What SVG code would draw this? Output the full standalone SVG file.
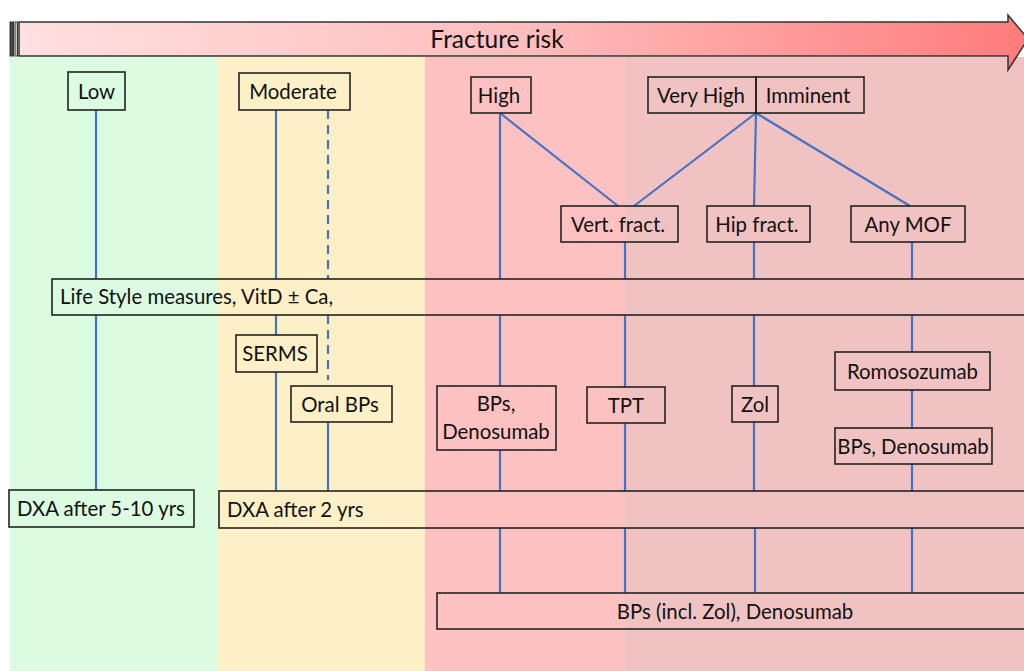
<svg xmlns="http://www.w3.org/2000/svg" width="1024" height="671" viewBox="0 0 1024 671">
<defs>
<linearGradient id="ag" x1="0" y1="0" x2="1" y2="0">
<stop offset="0" stop-color="#FFE0E0"/>
<stop offset="0.5" stop-color="#FFBDBD"/>
<stop offset="1" stop-color="#FF7B7B"/>
</linearGradient>
<style>
.box{fill:none;stroke:#222;stroke-width:1.6}
.t{font-family:Lato,"Liberation Sans",sans-serif;font-size:20.4px;fill:#111}
.title{font-size:24.5px}
.c{stroke:#4472C4;stroke-width:2.2;fill:none}
.d{stroke-dasharray:9 6}
</style>
</defs>
<rect width="1024" height="671" fill="#fff"/>
<g id="bands">
<rect x="10" y="57" width="208" height="614" fill="#DBFCE1"/>
<rect x="218" y="57" width="207" height="614" fill="#FEF0C6"/>
<rect x="425" y="57" width="200" height="614" fill="#FEC1C1"/>
<rect x="625" y="57" width="399" height="614" fill="#F1C2C2"/>
</g>
<g id="arrow">
<rect x="10" y="22" width="3.5" height="34" fill="#444" stroke="#333" stroke-width="1"/>
<rect x="15" y="22" width="2.5" height="34" fill="#ccc" stroke="#333" stroke-width="1"/>
<path d="M19,22 H1008 V15 L1028,39 L1008,70 V56 H19 Z" fill="url(#ag)" stroke="#333" stroke-width="1.5"/>
<text class="t title" x="497" y="47.5" text-anchor="middle">Fracture risk</text>
</g>
<g id="connectors">
<line class="c" x1="96" y1="110" x2="96" y2="279"/>
<line class="c" x1="96" y1="315" x2="96" y2="490"/>
<line class="c" x1="276" y1="110" x2="276" y2="279"/>
<line class="c" x1="276" y1="315" x2="276" y2="335"/>
<line class="c" x1="276" y1="372" x2="276" y2="491"/>
<line class="c d" x1="328" y1="110" x2="328" y2="279"/>
<line class="c d" x1="328" y1="315" x2="328" y2="380"/>
<line class="c" x1="328" y1="422" x2="328" y2="491"/>
<line class="c" x1="500" y1="113" x2="500" y2="279"/>
<line class="c" x1="500" y1="315" x2="500" y2="386"/>
<line class="c" x1="500" y1="450" x2="500" y2="491"/>
<line class="c" x1="500" y1="528" x2="500" y2="593"/>
<line class="c" x1="500" y1="113" x2="618" y2="206"/>
<line class="c" x1="756" y1="113" x2="634" y2="206"/>
<line class="c" x1="756" y1="113" x2="754" y2="206"/>
<line class="c" x1="756" y1="113" x2="910" y2="206"/>
<line class="c" x1="625" y1="242" x2="625" y2="279"/>
<line class="c" x1="625" y1="315" x2="625" y2="387"/>
<line class="c" x1="625" y1="423" x2="625" y2="491"/>
<line class="c" x1="625" y1="528" x2="625" y2="593"/>
<line class="c" x1="754" y1="242" x2="754" y2="279"/>
<line class="c" x1="754" y1="315" x2="754" y2="386"/>
<line class="c" x1="754" y1="422" x2="754" y2="491"/>
<line class="c" x1="755" y1="528" x2="755" y2="593"/>
<line class="c" x1="912" y1="242" x2="912" y2="279"/>
<line class="c" x1="912" y1="315" x2="912" y2="352"/>
<line class="c" x1="912" y1="390" x2="912" y2="428"/>
<line class="c" x1="912" y1="464" x2="912" y2="491"/>
<line class="c" x1="912" y1="528" x2="912" y2="593"/>
</g>
<g id="low"><rect class="box" x="68" y="72" width="57" height="38"/><text class="t" x="96.5" y="98.5" text-anchor="middle">Low</text></g>
<g id="moderate"><rect class="box" x="239" y="73" width="111" height="37"/><text class="t" x="293" y="99" text-anchor="middle">Moderate</text></g>
<g id="high"><rect class="box" x="471" y="77" width="60" height="36"/><text class="t" x="499" y="102.5" text-anchor="middle">High</text></g>
<g id="veryhigh"><rect class="box" x="648" y="77" width="108" height="36"/><text class="t" x="701" y="102.5" text-anchor="middle">Very High</text></g>
<g id="imminent"><rect class="box" x="756" y="77" width="108" height="36"/><text class="t" x="808" y="102.5" text-anchor="middle">Imminent</text></g>
<g id="vert"><rect class="box" x="561" y="206" width="117" height="36"/><text class="t" x="618" y="231.5" text-anchor="middle">Vert. fract.</text></g>
<g id="hip"><rect class="box" x="707" y="206" width="103" height="36"/><text class="t" x="757" y="231.5" text-anchor="middle">Hip fract.</text></g>
<g id="mof"><rect class="box" x="851" y="206" width="114" height="36"/><text class="t" x="908" y="231.5" text-anchor="middle">Any MOF</text></g>
<g id="lifestyle"><rect class="box" x="52" y="279" width="990" height="36"/><text class="t" x="60" y="304">Life Style measures, VitD ± Ca,</text></g>
<g id="serms"><rect class="box" x="236" y="335" width="81" height="37"/><text class="t" x="275" y="361" text-anchor="middle">SERMS</text></g>
<g id="oralbps"><rect class="box" x="291" y="386" width="101" height="36"/><text class="t" x="340" y="411.5" text-anchor="middle">Oral BPs</text></g>
<g id="bpsden1"><rect class="box" x="437" y="386" width="119" height="64"/><text class="t" x="496" y="411" text-anchor="middle">BPs,</text><text class="t" x="496" y="438.5" text-anchor="middle">Denosumab</text></g>
<g id="tpt"><rect class="box" x="587" y="387" width="78" height="36"/><text class="t" x="626" y="412.5" text-anchor="middle">TPT</text></g>
<g id="zol"><rect class="box" x="732" y="386" width="46" height="36"/><text class="t" x="755" y="411.5" text-anchor="middle">Zol</text></g>
<g id="romo"><rect class="box" x="835" y="352" width="155" height="38"/><text class="t" x="912.5" y="378.5" text-anchor="middle">Romosozumab</text></g>
<g id="bpsden2"><rect class="box" x="835" y="428" width="157" height="36"/><text class="t" x="913" y="453.5" text-anchor="middle">BPs, Denosumab</text></g>
<g id="dxa510"><rect class="box" x="9" y="490" width="185" height="37"/><text class="t" x="17" y="515.5">DXA after 5-10 yrs</text></g>
<g id="dxa2"><rect class="box" x="219" y="491" width="823" height="37"/><text class="t" x="227" y="517">DXA after 2 yrs</text></g>
<g id="bpsall"><rect class="box" x="437" y="593" width="605" height="36"/><text class="t" x="735" y="618.5" text-anchor="middle">BPs (incl. Zol), Denosumab</text></g>
</svg>
